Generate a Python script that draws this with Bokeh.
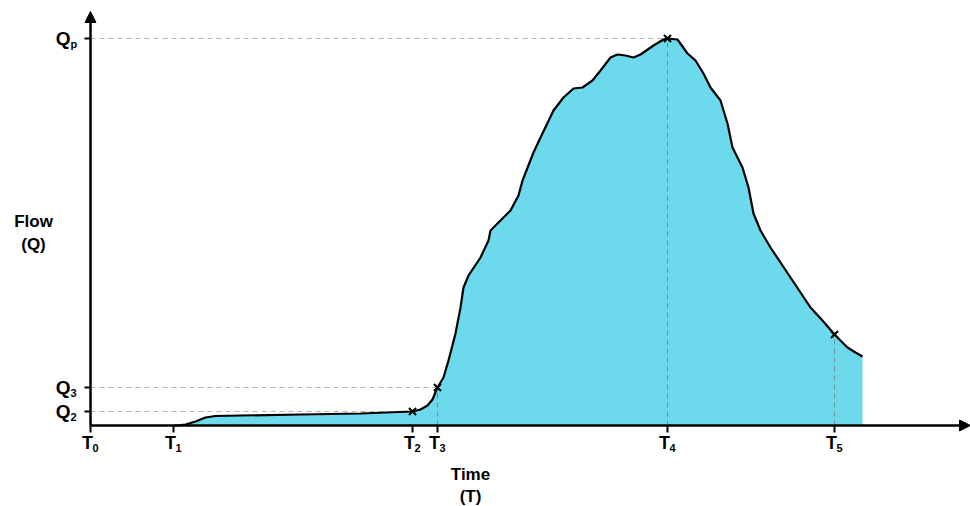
from bokeh.plotting import figure
from bokeh.models import Range1d, Arrow, NormalHead
from bokeh.core.properties import value
from bokeh.embed import file_html
from bokeh.resources import INLINE

# Hydrograph: time since T0 and flow above the zero baseline
time_pts = [84, 90, 95, 105, 115, 125, 150, 210, 270, 322, 330, 337, 342, 347, 353, 358,
            365, 370, 373, 378, 390, 398, 400, 410, 420, 428, 432, 443, 450, 463, 473,
            483, 492, 502, 510, 520, 527, 535, 543, 550, 563, 573, 577, 587, 597, 605,
            613, 620, 630, 637, 642, 652, 658, 663, 670, 680, 690, 700, 710, 720, 732,
            744, 757, 765, 772]
flow_pts = [0, 0.3, 1, 4, 8, 9.5, 10, 11, 12, 14, 16, 20, 26, 38, 48, 65,
            92, 118, 138, 150, 168, 185, 195, 205, 215, 230, 245, 273, 288, 315, 328,
            337, 338, 345, 355, 368, 371, 370, 368, 371, 380, 386, 387, 386, 372, 365,
            352, 338, 325, 302, 278, 258, 238, 212, 195, 178, 163, 148, 133, 118, 105,
            91, 78, 73, 69]

# Key points on the hydrograph (T2, T3, T4 = peak, T5)
mark_t = [322, 347, 577, 744]
mark_q = [14, 38, 387, 91]

# Axis ticks
t_ticks = [0, 83, 322, 347, 577, 744]
t_subs = ["0", "1", "2", "3", "4", "5"]
q_ticks = [14, 38, 387]
q_subs = ["2", "3", "p"]

FILL = "#6dd9ec"
FONT = value("Liberation Sans")

p = figure(width=970, height=506, output_backend="svg", toolbar_location=None,
           x_range=Range1d(-90, 880), y_range=Range1d(-81, 425),
           min_border=0, min_border_left=0, min_border_right=0,
           min_border_top=0, min_border_bottom=0)
p.axis.visible = False
p.grid.visible = False
p.outline_line_color = None
p.background_fill_color = "white"

# Guide lines from the flow axis to the key points
p.segment(x0=[0] * 3, y0=[14, 38, 387], x1=[322, 347, 577], y1=[14, 38, 387],
          line_color="#b4b4b4", line_width=1, line_dash="5 4")

# Area under the hydrograph
p.varea(x=time_pts, y1=0, y2=flow_pts, fill_color=FILL)

# Vertical guides down to the time axis
p.segment(x0=mark_t[1:], y0=[0] * 3, x1=mark_t[1:], y1=mark_q[1:],
          line_color="#6a8f99", line_width=1, line_dash="5 4")

# Hydrograph outline
p.line(time_pts, flow_pts, line_color="black", line_width=2.2)
p.scatter(mark_t, mark_q, marker="x", size=10, line_color="black", line_width=2)

# Axes with arrow heads
p.add_layout(Arrow(end=NormalHead(size=11, fill_color="black", line_color="black"),
                   x_start=0, y_start=0, x_end=880, y_end=0,
                   line_color="black", line_width=2.5))
p.add_layout(Arrow(end=NormalHead(size=11, fill_color="black", line_color="black"),
                   x_start=0, y_start=0, x_end=0, y_end=414,
                   line_color="black", line_width=2.5))

# Tick marks
p.segment(x0=t_ticks, y0=[0] * 6, x1=t_ticks, y1=[-7] * 6, line_color="black", line_width=2)
p.segment(x0=[-6] * 3, y0=q_ticks, x1=[0] * 3, y1=q_ticks, line_color="black", line_width=2)

# Time tick labels: T with subscripts
p.text(x=t_ticks, y=[0] * 6, text=["T"] * 6, text_font=FONT, text_font_style="bold",
       text_font_size="18px", text_align="center", text_baseline="top",
       x_offset=-3, y_offset=7, text_color="black")
p.text(x=t_ticks, y=[0] * 6, text=t_subs, text_font=FONT, text_font_style="bold",
       text_font_size="11px", text_align="left", text_baseline="top",
       x_offset=2, y_offset=18, text_color="black")

# Flow tick labels: Q with subscripts
p.text(x=[0] * 3, y=q_ticks, text=["Q"] * 3, text_font=FONT, text_font_style="bold",
       text_font_size="19px", text_align="right", text_baseline="middle",
       x_offset=-20, y_offset=0, text_color="black")
p.text(x=[0] * 3, y=q_ticks, text=q_subs, text_font=FONT, text_font_style="bold",
       text_font_size="11px", text_align="left", text_baseline="middle",
       x_offset=-20, y_offset=5, text_color="black")

# Axis titles
p.text(x=[380, 380], y=[0, 0], text=["Time", "(T)"], text_font=FONT, text_font_style="bold",
       text_font_size="17px", text_align="center", text_baseline="middle",
       y_offset=[49, 71], text_color="black")
p.text(x=[-57, -57], y=[204, 204], text=["Flow", "(Q)"], text_font=FONT, text_font_style="bold",
       text_font_size="17px", text_align="center", text_baseline="middle",
       y_offset=[0, 23], text_color="black")

open("out.html", "w").write(file_html(p, INLINE))
